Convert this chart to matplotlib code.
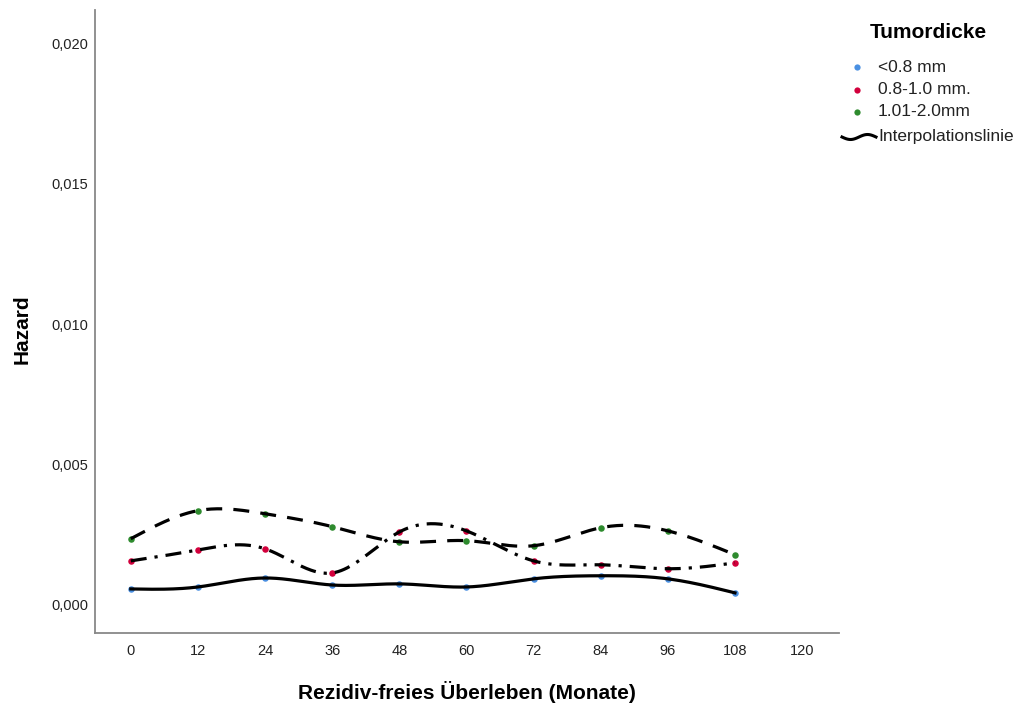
import numpy as np
import matplotlib
matplotlib.use("Agg")
from matplotlib import pyplot as plt
from matplotlib.lines import Line2D

plt.rcParams["font.family"] = ["Liberation Sans", "DejaVu Sans"]

months = [0, 12, 24, 36, 48, 60, 72, 84, 96, 108]
hazard_lt08 = [0.00057, 0.00064, 0.00096, 0.00071, 0.00075, 0.00064, 0.00093, 0.00104, 0.00093, 0.00043]
hazard_08_10 = [0.00157, 0.00196, 0.00200, 0.00114, 0.00260, 0.00264, 0.00157, 0.00143, 0.00129, 0.00150]
hazard_101_20 = [0.00236, 0.00336, 0.00325, 0.00279, 0.00225, 0.00229, 0.00211, 0.00275, 0.00264, 0.00179]
group_labels = ["<0.8 mm", "0.8-1.0 mm.", "1.01-2.0mm"]
x_ticks = [0, 12, 24, 36, 48, 60, 72, 84, 96, 108, 120]
y_ticks = [0.0, 0.005, 0.010, 0.015, 0.020]


def natural_spline(x, y, n=400):
    # natürlicher kubischer Spline (ohne scipy)
    x = np.asarray(x, float)
    y = np.asarray(y, float)
    k = len(x)
    h = np.diff(x)
    A = np.zeros((k, k))
    r = np.zeros(k)
    A[0, 0] = A[-1, -1] = 1.0
    for i in range(1, k - 1):
        A[i, i - 1] = h[i - 1]
        A[i, i] = 2 * (h[i - 1] + h[i])
        A[i, i + 1] = h[i]
        r[i] = 3 * ((y[i + 1] - y[i]) / h[i] - (y[i] - y[i - 1]) / h[i - 1])
    c = np.linalg.solve(A, r)
    xs = np.linspace(x[0], x[-1], n)
    idx = np.clip(np.searchsorted(x, xs) - 1, 0, k - 2)
    dx = xs - x[idx]
    b = (y[idx + 1] - y[idx]) / h[idx] - h[idx] * (2 * c[idx] + c[idx + 1]) / 3
    d = (c[idx + 1] - c[idx]) / (3 * h[idx])
    ys = y[idx] + b * dx + c[idx] * dx ** 2 + d * dx ** 3
    return xs, ys


W, H = 1017, 710
fig = plt.figure(figsize=(W / 100, H / 100), dpi=100)
ax = fig.add_axes([95 / W, (H - 633) / H, 744 / W, 623 / H])

colors = ["#4a90e2", "#d2003c", "#2e8b2e"]
styles = ["-", (0, (5, 2.5, 1, 2.5)), (0, (5, 3.5))]
series = [hazard_lt08, hazard_08_10, hazard_101_20]

for vals, col, ls in zip(series, colors, styles):
    xs, ys = natural_spline(months, vals)
    ax.plot(xs, ys, color="black", lw=2.3, ls=ls, zorder=3)
    ax.scatter(months, vals, s=22, color=col, zorder=2, linewidths=0)

ax.set_xlim(-6.4, 126.6)
ax.set_ylim(-0.001, 0.0212)
ax.set_xticks(x_ticks)
ax.set_yticks(y_ticks)
ax.set_yticklabels([f"{v:.3f}".replace(".", ",") for v in y_ticks])
ax.tick_params(length=0, labelsize=10.5, colors="#222222")
ax.tick_params(axis="x", pad=8)
ax.tick_params(axis="y", pad=5)
for s in ["top", "right"]:
    ax.spines[s].set_visible(False)
for s in ["left", "bottom"]:
    ax.spines[s].set_color("#888888")
    ax.spines[s].set_linewidth(1.3)

ax.set_xlabel("Rezidiv-freies Überleben (Monate)", fontsize=15, fontweight="bold", va="center")
ax.xaxis.set_label_coords(0.5, (633 - 692) / 623)
ax.set_ylabel("Hazard", fontsize=15, fontweight="bold", va="center")
ax.yaxis.set_label_coords((22 - 95) / 744, (633 - 329) / 623)

# Legende von Hand gesetzt
fig.text(928 / W, 1 - 32 / H, "Tumordicke", fontsize=15, fontweight="bold",
         ha="center", va="center")
for i, (lab, col) in enumerate(zip(group_labels, colors)):
    yy = 1 - (67 + i * 22.5) / H
    fig.add_artist(Line2D([857 / W], [yy], ls="", marker="o", ms=4.5, color=col, mec="none"))
    fig.text(878 / W, yy, lab, fontsize=12.5, va="center", color="#222222")
t = np.linspace(0, 1, 40)
wave_x = 842 + t * 34
wave_y = 137 + np.sin(t * 2 * np.pi) * 2.5
fig.add_artist(Line2D(wave_x / W, 1 - wave_y / H, color="black", lw=2.2))
fig.text(878 / W, 1 - 137 / H, "Interpolationslinie", fontsize=12.5, va="center", color="#222222")

fig.savefig("out.png", dpi=100)
